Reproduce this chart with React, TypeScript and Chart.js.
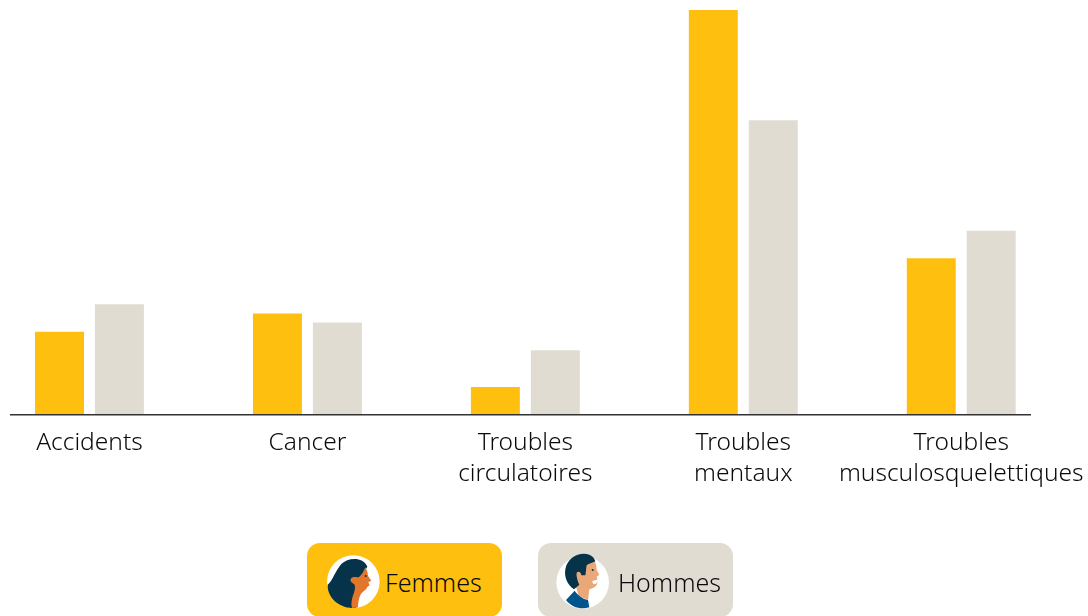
import React, { useEffect, useRef } from "react";
import { Chart, registerables } from "chart.js";

Chart.register(...registerables);

const categories = [
  "Accidents",
  "Cancer",
  ["Troubles", "circulatoires"],
  ["Troubles", "mentaux"],
  ["Troubles", "musculosquelettiques"],
];
const femmes = [9, 11, 3, 44, 17];
const hommes = [12, 10, 7, 32, 20];
const YELLOW = "#FFBF0F";
const GREY = "#E0DCD2";
const INK = "#0A0A0A";
const FONT = "'Noto Sans'";

const axisLine = {
  id: "axisLine",
  afterDatasetsDraw(chart: any) {
    const { ctx, scales } = chart;
    const y = scales.y.getPixelForValue(0);
    ctx.save();
    ctx.strokeStyle = "#333333";
    ctx.lineWidth = 1.5;
    ctx.beginPath();
    ctx.moveTo(30, y + 0.25);
    ctx.lineTo(1051, y + 0.25);
    ctx.stroke();
    ctx.restore();
  },
};

function Pill({ left, bg, label, textLeft, children }: any) {
  return (
    <div
      style={{
        position: "absolute",
        left,
        top: 543,
        width: 195,
        height: 74,
        borderRadius: 13,
        background: bg,
      }}
    >
      {children}
      <span
        style={{
          position: "absolute",
          left: textLeft,
          top: 24,
          fontFamily: FONT,
          fontWeight: 300,
          fontSize: 25,
          lineHeight: "30px",
          color: INK,
        }}
      >
        {label}
      </span>
    </div>
  );
}

export default function App() {
  const ref = useRef<HTMLCanvasElement>(null);
  useEffect(() => {
    const chart = new Chart(ref.current!, {
      type: "bar",
      data: {
        labels: categories as any,
        datasets: [
          { label: "Femmes", data: femmes, backgroundColor: YELLOW, categoryPercentage: 0.55, barPercentage: 0.8167 },
          { label: "Hommes", data: hommes, backgroundColor: GREY, categoryPercentage: 0.55, barPercentage: 0.8167 },
        ],
      },
      options: {
        animation: false,
        responsive: false,
        layout: { padding: { left: 0.5, right: 17.8, top: 10, bottom: 0 } },
        plugins: { legend: { display: false }, tooltip: { enabled: false } },
        scales: {
          y: { display: false, min: 0, max: 44 },
          x: {
            grid: { display: false, drawTicks: false },
            border: { display: false },
            afterFit(s: any) {
              s.height = 201.5;
              s.paddingLeft = 0;
              s.paddingRight = 0;
            },
            ticks: {
              autoSkip: false,
              maxRotation: 0,
              minRotation: 0,
              padding: 14,
              color: INK,
              font: { family: FONT, weight: 300 as any, size: 24.5, lineHeight: 1.225 },
            },
          },
        },
      },
      plugins: [axisLine],
    });
    return () => chart.destroy();
  }, []);
  return (
    <div style={{ position: "absolute", left: 0, top: 0, width: 1088, height: 616, overflow: "hidden", background: "#fff" }}>
      <canvas ref={ref} width={1108} height={616} style={{ position: "absolute", left: -20, top: 0 }} />
      <Pill left={307} bg={YELLOW} label="Femmes" textLeft={78}>
        <svg style={{ position: "absolute", left: 15, top: 7 }} width="62" height="62" viewBox="0 0 186 186">
          <circle cx="94" cy="95" r="79" fill="#fff" />
          <path d="M17 104 C32 92 40 62 58 42 C72 28 100 22 120 32 C128 36 134 44 136 50 L112 90 L104 172 C100 174 94 174 90 174 C48 172 15 140 17 104Z" fill="#06324A" />
          <path d="M130 52 C136 62 138 72 138 78 L148 92 L139 97 L143 106 L136 112 C132 122 120 124 114 138 C110 148 108 160 108 172 L90 174 C86 160 90 142 96 128 C100 116 100 106 96 102 C88 98 82 92 88 84 C96 78 106 84 112 80 C120 74 126 62 130 52Z" fill="#E2762A" />
          <circle cx="131" cy="78" r="3" fill="#06324A" />
          <path d="M136 112 L147 105 C147 112 142 117 134 118Z" fill="#fff" />
        </svg>
      </Pill>
      <Pill left={538} bg={GREY} label="Hommes" textLeft={80}>
        <svg style={{ position: "absolute", left: 14, top: 7 }} width="62" height="62" viewBox="0 0 186 186">
          <circle cx="92" cy="97" r="79" fill="#fff" />
          <path d="M62 60 L128 32 C132 42 134 52 134 60 L142 74 L134 80 L137 90 C138 102 132 112 118 116 L112 118 L108 150 L80 138 L72 110 Z" fill="#EAA878" />
          <path d="M66 118 C46 104 36 82 40 58 C46 22 84 4 112 14 C122 18 128 26 130 34 C118 40 108 42 104 46 C102 56 102 68 100 76 L88 76 C88 68 80 62 74 68 C72 78 78 96 82 104 Z" fill="#06324A" />
          <path d="M42 150 L68 122 C76 134 90 146 108 150 L112 172 C88 180 58 172 42 150Z" fill="#00548C" />
          <circle cx="122" cy="60" r="3" fill="#06324A" />
          <path d="M120 94 L138 88 C138 98 132 104 124 102Z" fill="#fff" />
        </svg>
      </Pill>
    </div>
  );
}
